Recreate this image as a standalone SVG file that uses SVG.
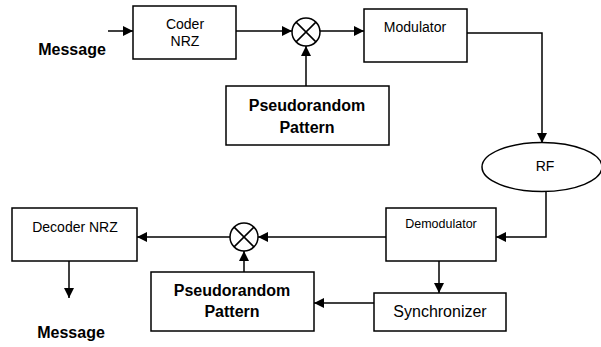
<svg xmlns="http://www.w3.org/2000/svg" width="601" height="347" viewBox="0 0 601 347">
<style>
.box{fill:#fff;stroke:#000;stroke-width:1.5}
.ln{fill:none;stroke:#000;stroke-width:1.5}
.t{font-family:"Liberation Sans",Arial,sans-serif;fill:#000;text-anchor:middle}
.b{font-weight:bold;font-size:16px}
.r{font-size:14px}
</style>
<defs>
<marker id="ah" viewBox="0 0 10 10" refX="10" refY="5" markerWidth="10" markerHeight="10" markerUnits="userSpaceOnUse" orient="auto">
<path d="M0,0 L10,5 L0,10 z" fill="#000"/>
</marker>
</defs>
<rect width="601" height="347" fill="#fff"/>
<g id="connectors">
<line class="ln" x1="108" y1="31" x2="133" y2="31" marker-end="url(#ah)"/>
<line class="ln" x1="236" y1="31" x2="292" y2="31" marker-end="url(#ah)"/>
<line class="ln" x1="306" y1="86" x2="306" y2="46" marker-end="url(#ah)"/>
<line class="ln" x1="320" y1="31" x2="364" y2="31" marker-end="url(#ah)"/>
<polyline class="ln" points="467,33 542,33 542,143" marker-end="url(#ah)"/>
<polyline class="ln" points="546,191 546,237 496,237" marker-end="url(#ah)"/>
<line class="ln" x1="386" y1="237" x2="258" y2="237" marker-end="url(#ah)"/>
<line class="ln" x1="230" y1="237" x2="137" y2="237" marker-end="url(#ah)"/>
<line class="ln" x1="244" y1="272" x2="244" y2="251" marker-end="url(#ah)"/>
<line class="ln" x1="439" y1="261" x2="439" y2="293" marker-end="url(#ah)"/>
<line class="ln" x1="374" y1="303" x2="314" y2="303" marker-end="url(#ah)"/>
<line class="ln" x1="69" y1="261" x2="69" y2="298" marker-end="url(#ah)"/>
</g>
<g id="msg-in"><text class="t b" x="72" y="55">Message</text></g>
<g id="coder">
<rect class="box" x="133" y="6" width="103" height="53"/>
<text class="t r" x="185" y="29">Coder</text>
<text class="t r" x="185" y="46">NRZ</text>
</g>
<g id="mixer1">
<circle class="box" cx="306" cy="32" r="14"/>
<path class="ln" d="M296.1,22.1 L315.9,41.9 M315.9,22.1 L296.1,41.9"/>
</g>
<g id="prp1">
<rect class="box" x="226" y="86" width="163" height="59"/>
<text class="t b" x="307" y="111">Pseudorandom</text>
<text class="t b" x="307" y="133">Pattern</text>
</g>
<g id="modulator">
<rect class="box" x="364" y="9" width="103" height="53"/>
<text class="t r" x="415" y="32">Modulator</text>
</g>
<g id="rf">
<ellipse class="box" cx="542" cy="167" rx="60" ry="24.5"/>
<text class="t r" x="545" y="171">RF</text>
</g>
<g id="demodulator">
<rect class="box" x="386" y="208" width="110" height="53"/>
<text class="t" x="441" y="228" style="font-size:12.5px">Demodulator</text>
</g>
<g id="synchronizer">
<rect class="box" x="374" y="293" width="132" height="38"/>
<text class="t" x="440" y="317" style="font-size:16px">Synchronizer</text>
</g>
<g id="mixer2">
<circle class="box" cx="244" cy="237" r="14"/>
<path class="ln" d="M234.1,227.1 L253.9,246.9 M253.9,227.1 L234.1,246.9"/>
</g>
<g id="prp2">
<rect class="box" x="151" y="272" width="163" height="59"/>
<text class="t b" x="232" y="296">Pseudorandom</text>
<text class="t b" x="232" y="317">Pattern</text>
</g>
<g id="decoder">
<rect class="box" x="12" y="208" width="125" height="53"/>
<text class="t r" x="75" y="232">Decoder NRZ</text>
</g>
<g id="msg-out"><text class="t b" x="71" y="338">Message</text></g>
</svg>
